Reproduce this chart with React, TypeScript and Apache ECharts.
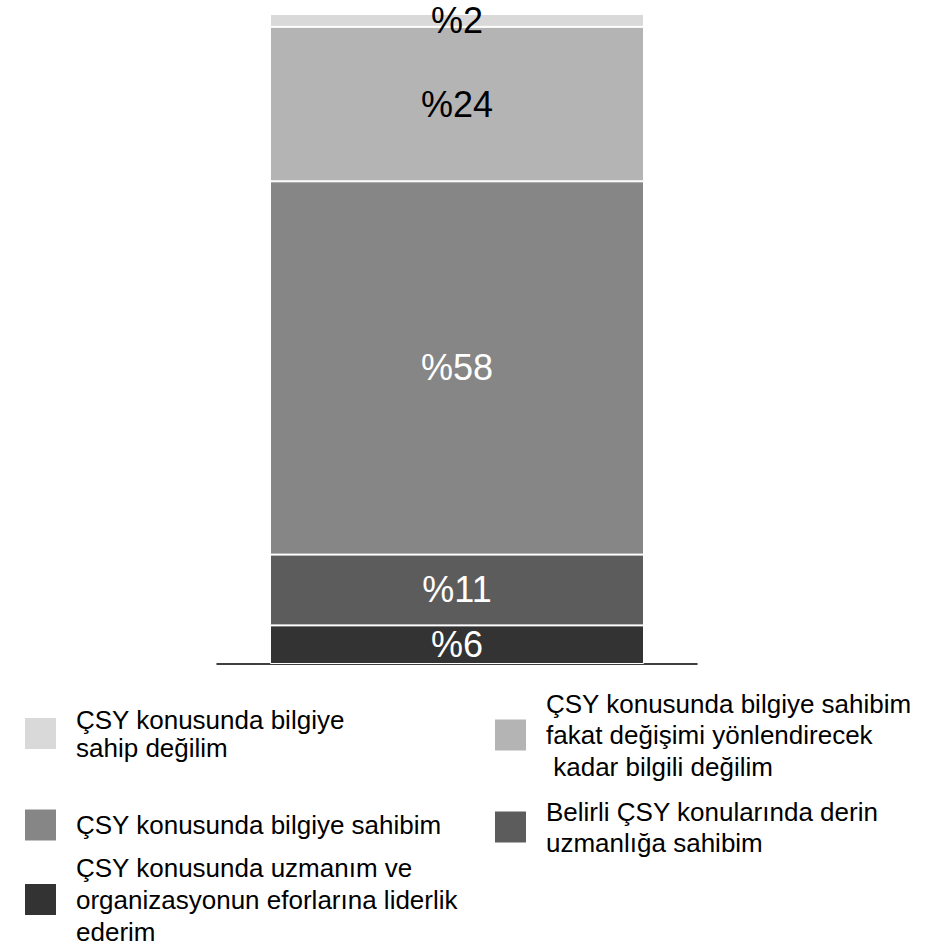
import React, { useEffect, useRef } from 'react';
import * as echarts from 'echarts';

const categories = [''];
const seriesNames = [
  'ÇSY konusunda uzmanım ve\norganizasyonun eforlarına liderlik\nederim',
  'Belirli ÇSY konularında derin\nuzmanlığa sahibim',
  'ÇSY konusunda bilgiye sahibim',
  'ÇSY konusunda bilgiye sahibim\nfakat değişimi yönlendirecek\n kadar bilgili değilim',
  'ÇSY konusunda bilgiye\nsahip değilim',
];
const seriesValues = [6, 11, 58, 24, 2];

const seriesColors = ['#333333', '#5c5c5c', '#868686', '#b4b4b4', '#d9d9d9'];
const labelColors = ['#ffffff', '#ffffff', '#ffffff', '#000000', '#000000'];

// legend layout: [seriesIndex, left, centerY, lineHeight]
const legendLayout: [number, number, number, number][] = [
  [4, 25, 733.5, 28],
  [2, 25, 825, 28],
  [0, 25, 899.5, 32],
  [3, 495, 735, 31.5],
  [1, 495, 827, 31],
];

const FONT = "'Liberation Sans', Arial, sans-serif";
const total = seriesValues.reduce((a, b) => a + b, 0);

export default function App() {
  const ref = useRef<HTMLDivElement>(null);
  useEffect(() => {
    document.body.style.margin = '0';
    if (!ref.current) return;
    const chart = echarts.init(ref.current, null, { renderer: 'svg' });
    const legends = legendLayout.map(([idx, left, cy, lh]) => {
      const lines = seriesNames[idx].split('\n').length;
      const h = Math.max(31, lines * lh);
      return {
        left,
        top: cy - h / 2,
        padding: 0,
        orient: 'vertical',
        icon: 'rect',
        itemWidth: 31,
        itemHeight: 31,
        selectedMode: false,
        itemStyle: { borderWidth: 0 },
        data: [seriesNames[idx]],
        textStyle: {
          fontFamily: FONT,
          fontSize: 26,
          lineHeight: lh,
          color: '#000',
          padding: [0, 0, 0, 15],
        },
      };
    });
    chart.setOption({
      animation: false,
      textStyle: { fontFamily: FONT },
      grid: { left: 217, right: 240, top: 14, bottom: 282, containLabel: false },
      legend: legends,
      xAxis: {
        type: 'category',
        data: categories,
        axisLine: { show: true, lineStyle: { color: '#000', width: 1.5 } },
        axisTick: { show: false },
        axisLabel: { show: false },
      },
      yAxis: {
        type: 'value',
        min: 0,
        max: total,
        show: false,
        splitLine: { show: false },
      },
      series: seriesValues.map((v, i) => ({
        name: seriesNames[i],
        type: 'bar',
        stack: 'total',
        barWidth: 374,
        data: [v],
        itemStyle: { color: seriesColors[i], borderColor: '#ffffff', borderWidth: 1 },
        label: {
          show: true,
          position: 'inside',
          formatter: '%{c}',
          fontSize: 36,
          fontFamily: FONT,
          color: labelColors[i],
        },
      })),
    });
    return () => chart.dispose();
  }, []);
  return <div ref={ref} style={{ width: 937, height: 946 }} />;
}
